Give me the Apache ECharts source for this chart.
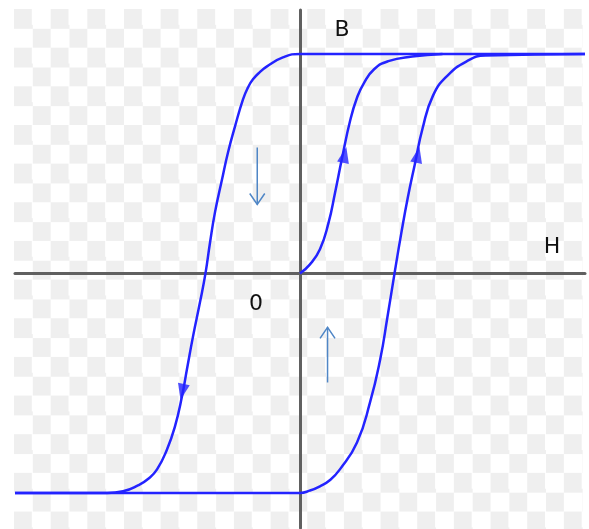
<!DOCTYPE html>
<html>
<head>
<meta charset="utf-8">
<title>B–H hysteresis loop</title>
<script src="https://cdn.jsdelivr.net/npm/echarts@6/dist/echarts.min.js"></script>
<style>
  html, body { margin: 0; padding: 0; background: #ffffff; }
  #wrap { position: relative; width: 589px; height: 529px; overflow: hidden; }
  /* transparency-style checkerboard backdrop */
  #checker {
    position: absolute; left: 14px; top: 9px; width: 569px; height: 520px;
    background: repeating-conic-gradient(#ffffff 0% 25%, #efefef 0% 50%) 0 0 / 36.67px 38.67px;
  }
  #chart { position: absolute; left: 0; top: 0; width: 589px; height: 529px; }
</style>
</head>
<body>
<div id="wrap">
  <div id="checker"></div>
  <div id="chart"></div>
</div>
<script>
// Initial magnetisation curve (from the origin up to saturation)
const initialH = [0, 0.105, 0.21, 0.30, 0.37, 0.44, 0.53, 0.60, 0.67, 0.78, 0.93, 1.18, 1.50];
const initialB = [0, 0.041, 0.11, 0.23, 0.37, 0.52, 0.70, 0.80, 0.865, 0.93, 0.967, 0.988, 1.0];

// Descending branch: from +saturation down to -saturation
const descendingH = [3.0, 0, -0.18, -0.347, -0.42, -0.495, -0.55, -0.60, -0.684, -0.758, -0.821, -0.895, -0.947, -0.995,
                     -1.053, -1.126, -1.19, -1.242, -1.316, -1.40, -1.505, -1.60, -1.70, -1.863, -2.03, -3.0];
const descendingB = [1.0, 1.0, 0.984, 0.943, 0.918, 0.884, 0.845, 0.793, 0.67, 0.551, 0.428, 0.278, 0.141, 0,
                     -0.132, -0.287, -0.437, -0.56, -0.697, -0.802, -0.893, -0.937, -0.965, -0.993, -1.0, -1.0];

// Ascending branch: from -saturation back up to +saturation
const ascendingH = [-3.0, 0, 0.10, 0.21, 0.32, 0.42, 0.60, 0.737, 0.845, 0.92, 0.995, 1.065, 1.137,
                    1.21, 1.29, 1.40, 1.55, 1.75, 1.95, 3.0];
const ascendingB = [-1.0, -1.0, -0.99, -0.97, -0.94, -0.893, -0.77, -0.588, -0.39, -0.20, 0, 0.18, 0.35,
                    0.50, 0.66, 0.81, 0.90, 0.965, 0.993, 1.0];

// Direction markers sitting on the curves (sense: 1 = increasing B, -1 = decreasing B)
const markerH = [0.47, 1.24, -1.24];
const markerB = [0.54, 0.54, -0.54];
const markerSense = [1, 1, -1];

// Thin annotation arrows beside the loop
const noteH = [-0.45, 0.29];
const noteFromB = [0.574, -0.497];
const noteToB = [0.314, -0.246];

const zip = (xs, ys) => xs.map((x, i) => [x, ys[i]]);

const curveColor = '#2323ff';
const noteColor = '#4f86c6';

const curveLine = (name, xs, ys) => ({
  name,
  type: 'line',
  data: zip(xs, ys),
  showSymbol: false,
  smooth: 0.5,
  lineStyle: { color: curveColor, width: 2.5 },
  z: 3
});

const chart = echarts.init(document.getElementById('chart'), null, { renderer: 'canvas' });

chart.setOption({
  backgroundColor: 'transparent',
  animation: false,
  grid: { left: 15, top: 10, width: 570, height: 518, containLabel: false },
  xAxis: {
    type: 'value', min: -3, max: 3,
    axisLine: { show: true, onZero: true, lineStyle: { color: '#606060', width: 3 } },
    axisTick: { show: false }, axisLabel: { show: false }, splitLine: { show: false }
  },
  yAxis: {
    type: 'value', min: -1.16, max: 1.2,
    axisLine: { show: true, onZero: true, lineStyle: { color: '#606060', width: 3 } },
    axisTick: { show: false }, axisLabel: { show: false }, splitLine: { show: false }
  },
  series: [
    curveLine('initial', initialH, initialB),
    curveLine('descending', descendingH, descendingB),
    curveLine('ascending', ascendingH, ascendingB),
    {
      name: 'markers',
      type: 'scatter',
      data: markerH.map((h, i) => ({
        value: [h, markerB[i]],
        symbolRotate: markerSense[i] > 0 ? -12 : 168
      })),
      symbol: 'triangle',
      symbolSize: [12, 16],
      itemStyle: { color: curveColor },
      z: 4
    },
    {
      name: 'notes',
      type: 'custom',
      data: noteH.map((h, i) => [h, noteFromB[i], noteToB[i]]),
      encode: { x: 0, y: [1, 2] },
      renderItem(params, api) {
        const p0 = api.coord([api.value(0), api.value(1)]);
        const p1 = api.coord([api.value(0), api.value(2)]);
        const d = p1[1] > p0[1] ? 1 : -1;
        const st = { stroke: noteColor, lineWidth: 1.5, fill: null };
        return {
          type: 'group',
          children: [
            { type: 'line', shape: { x1: p0[0], y1: p0[1], x2: p1[0], y2: p1[1] }, style: st },
            { type: 'polyline',
              shape: { points: [[p1[0] - 7.5, p1[1] - d * 11], [p1[0], p1[1]], [p1[0] + 7.5, p1[1] - d * 11]] },
              style: st }
          ]
        };
      },
      z: 2
    }
  ],
  graphic: [
    { type: 'text', x: 342, y: 30, style: { text: 'B', font: '22px "DejaVu Sans"', fill: '#111111', align: 'center', verticalAlign: 'middle' } },
    { type: 'text', x: 552, y: 247, style: { text: 'H', font: '22px "DejaVu Sans"', fill: '#111111', align: 'center', verticalAlign: 'middle' } },
    { type: 'text', x: 256, y: 304, style: { text: '0', font: '22px "DejaVu Sans"', fill: '#111111', align: 'center', verticalAlign: 'middle' } }
  ]
});
</script>
</body>
</html>
